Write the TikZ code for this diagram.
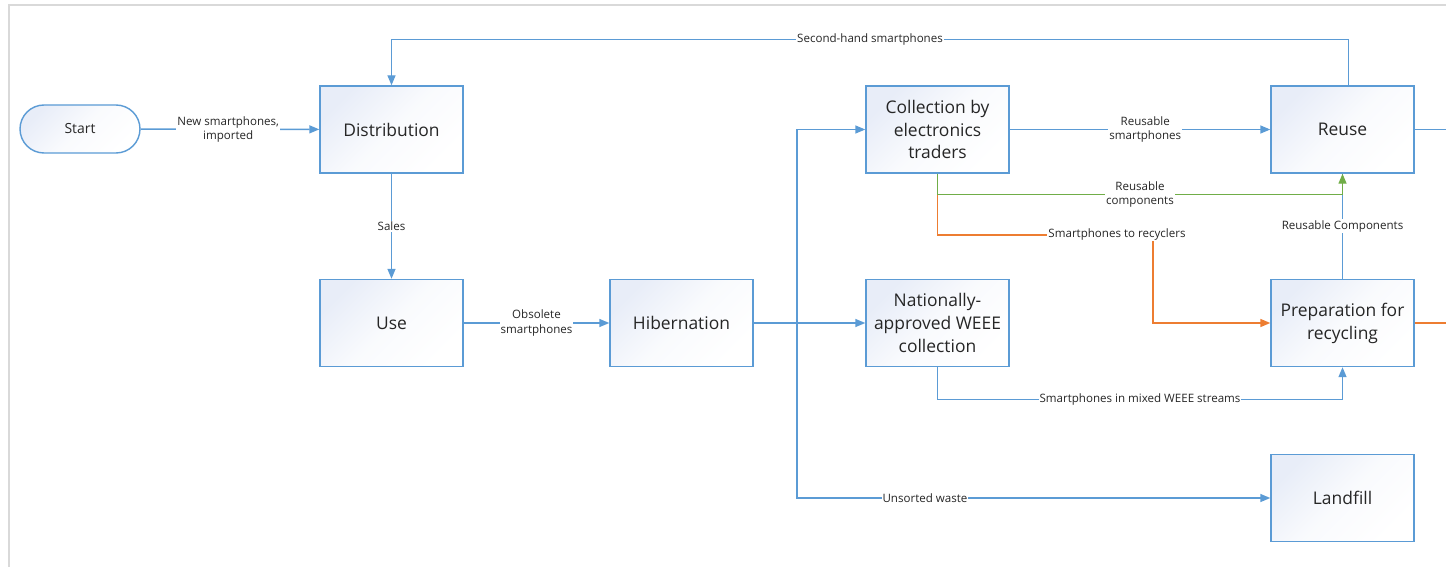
\documentclass[tikz,border=0pt]{standalone}
\usepackage{fontspec}
\setmainfont{Open Sans}
\usetikzlibrary{arrows.meta,calc}
\definecolor{lnblue}{HTML}{5B9BD5}
\definecolor{lnorange}{HTML}{ED7D31}
\definecolor{lngreen}{HTML}{70AD47}
\definecolor{boxA}{HTML}{E8EDF8}
\definecolor{txt}{HTML}{262626}
\definecolor{frame}{HTML}{D9D9D9}
\tikzset{
  procbox/.style={draw=lnblue, line width=1.4bp, minimum width=143bp, minimum height=87bp,
    top color=boxA, bottom color=white, middle color=boxA!25!white, shading angle=45,
    align=center, text=txt, font=\fontsize{17.5}{23}\selectfont, inner sep=2bp},
  startbox/.style={draw=lnblue, line width=1.4bp, minimum width=120bp, minimum height=48bp,
    rounded corners=24bp, top color=boxA, bottom color=white, middle color=boxA!25!white,
    shading angle=45, text=txt, font=\fontsize{14}{16}\selectfont},
  flow/.style={draw=lnblue, line width=1.4bp},
  tipA/.style={-{Triangle[length=10bp,width=8bp]}},
  flowarr/.style={flow, tipA},
  oflow/.style={draw=lnorange, line width=1.5bp},
  gflow/.style={draw=lngreen, line width=1.4bp},
  elabel/.style={fill=white, inner sep=1bp, align=center, text=txt,
    font=\fontsize{11.6}{14.5}\selectfont},
}
\begin{document}
\begin{tikzpicture}[x=1bp,y=-1bp]
\useasboundingbox (0,0) rectangle (1446,567);
\draw[frame, line width=2bp] (9,567) -- (9,5) -- (1446,5);

\node[startbox] (start) at (80,129) {Start};
\node[procbox] (dist) at (391.5,129.5) {Distribution};
\node[procbox] (use) at (391.5,323) {Use};
\node[procbox] (hib) at (681.5,323) {Hibernation};
\node[procbox] (coll) at (937.5,129.5) {Collection by\\electronics\\traders};
\node[procbox] (nat) at (937.5,323) {Nationally-\\approved WEEE\\collection};
\node[procbox] (reuse) at (1342.5,129.5) {Reuse};
\node[procbox] (prep) at (1342.5,323) {Preparation for\\recycling};
\node[procbox] (land) at (1342.5,498) {Landfill};

\coordinate (split) at (797,323);
\coordinate (outA) at (1446,129.5);
\coordinate (outB) at (1446,323);
\coordinate (obend) at (1153,235);

% start -> distribution
\draw[flowarr] (start) -- node[elabel, pos=0.49]{New smartphones,\\imported} (dist);
% second-hand
\draw[flowarr] ([xshift=6bp]reuse.north) -- ++(0,-46) -| node[elabel, pos=0.25]{Second-hand smartphones} (dist.north);
% sales
\draw[flowarr] (dist) -- node[elabel]{Sales} (use);
% obsolete
\draw[flowarr] (use) -- node[elabel]{Obsolete\\smartphones} (hib);
% hibernation out
\draw[flow, line width=1.9bp] (hib.east) -- (split);
\draw[flowarr] (split) -- (nat.west);
\draw[flowarr] (split) |- (coll.west);
\draw[flowarr] (split) |- (land.west);
\node[elabel] at (925,498) {Unsorted waste};
% collection -> reuse
\draw[flowarr] (coll) -- node[elabel, pos=0.52]{Reusable\\smartphones} (reuse);
% orange
\draw[oflow] (coll.south) |- (obend);
\draw[oflow, tipA] (obend) |- (prep.west);
\node[elabel] at (1117,234) {Smartphones to recyclers};
% prep -> reuse (blue)
\draw[flow] (prep.north) -- node[elabel]{Reusable Components} (reuse.south);
% green
\draw[gflow, tipA]
  (coll.south) -- ++(0,21) -| node[elabel, pos=0.25]{Reusable\\components} (reuse.south);
% mixed WEEE
\draw[flowarr] (nat.south) -- ++(0,32) -| node[elabel, pos=0.25]{Smartphones in mixed WEEE streams} (prep.south);
% outgoing
\draw[flow] (reuse.east) -- (outA);
\draw[oflow] (prep.east) -- (outB);
\end{tikzpicture}
\end{document}
